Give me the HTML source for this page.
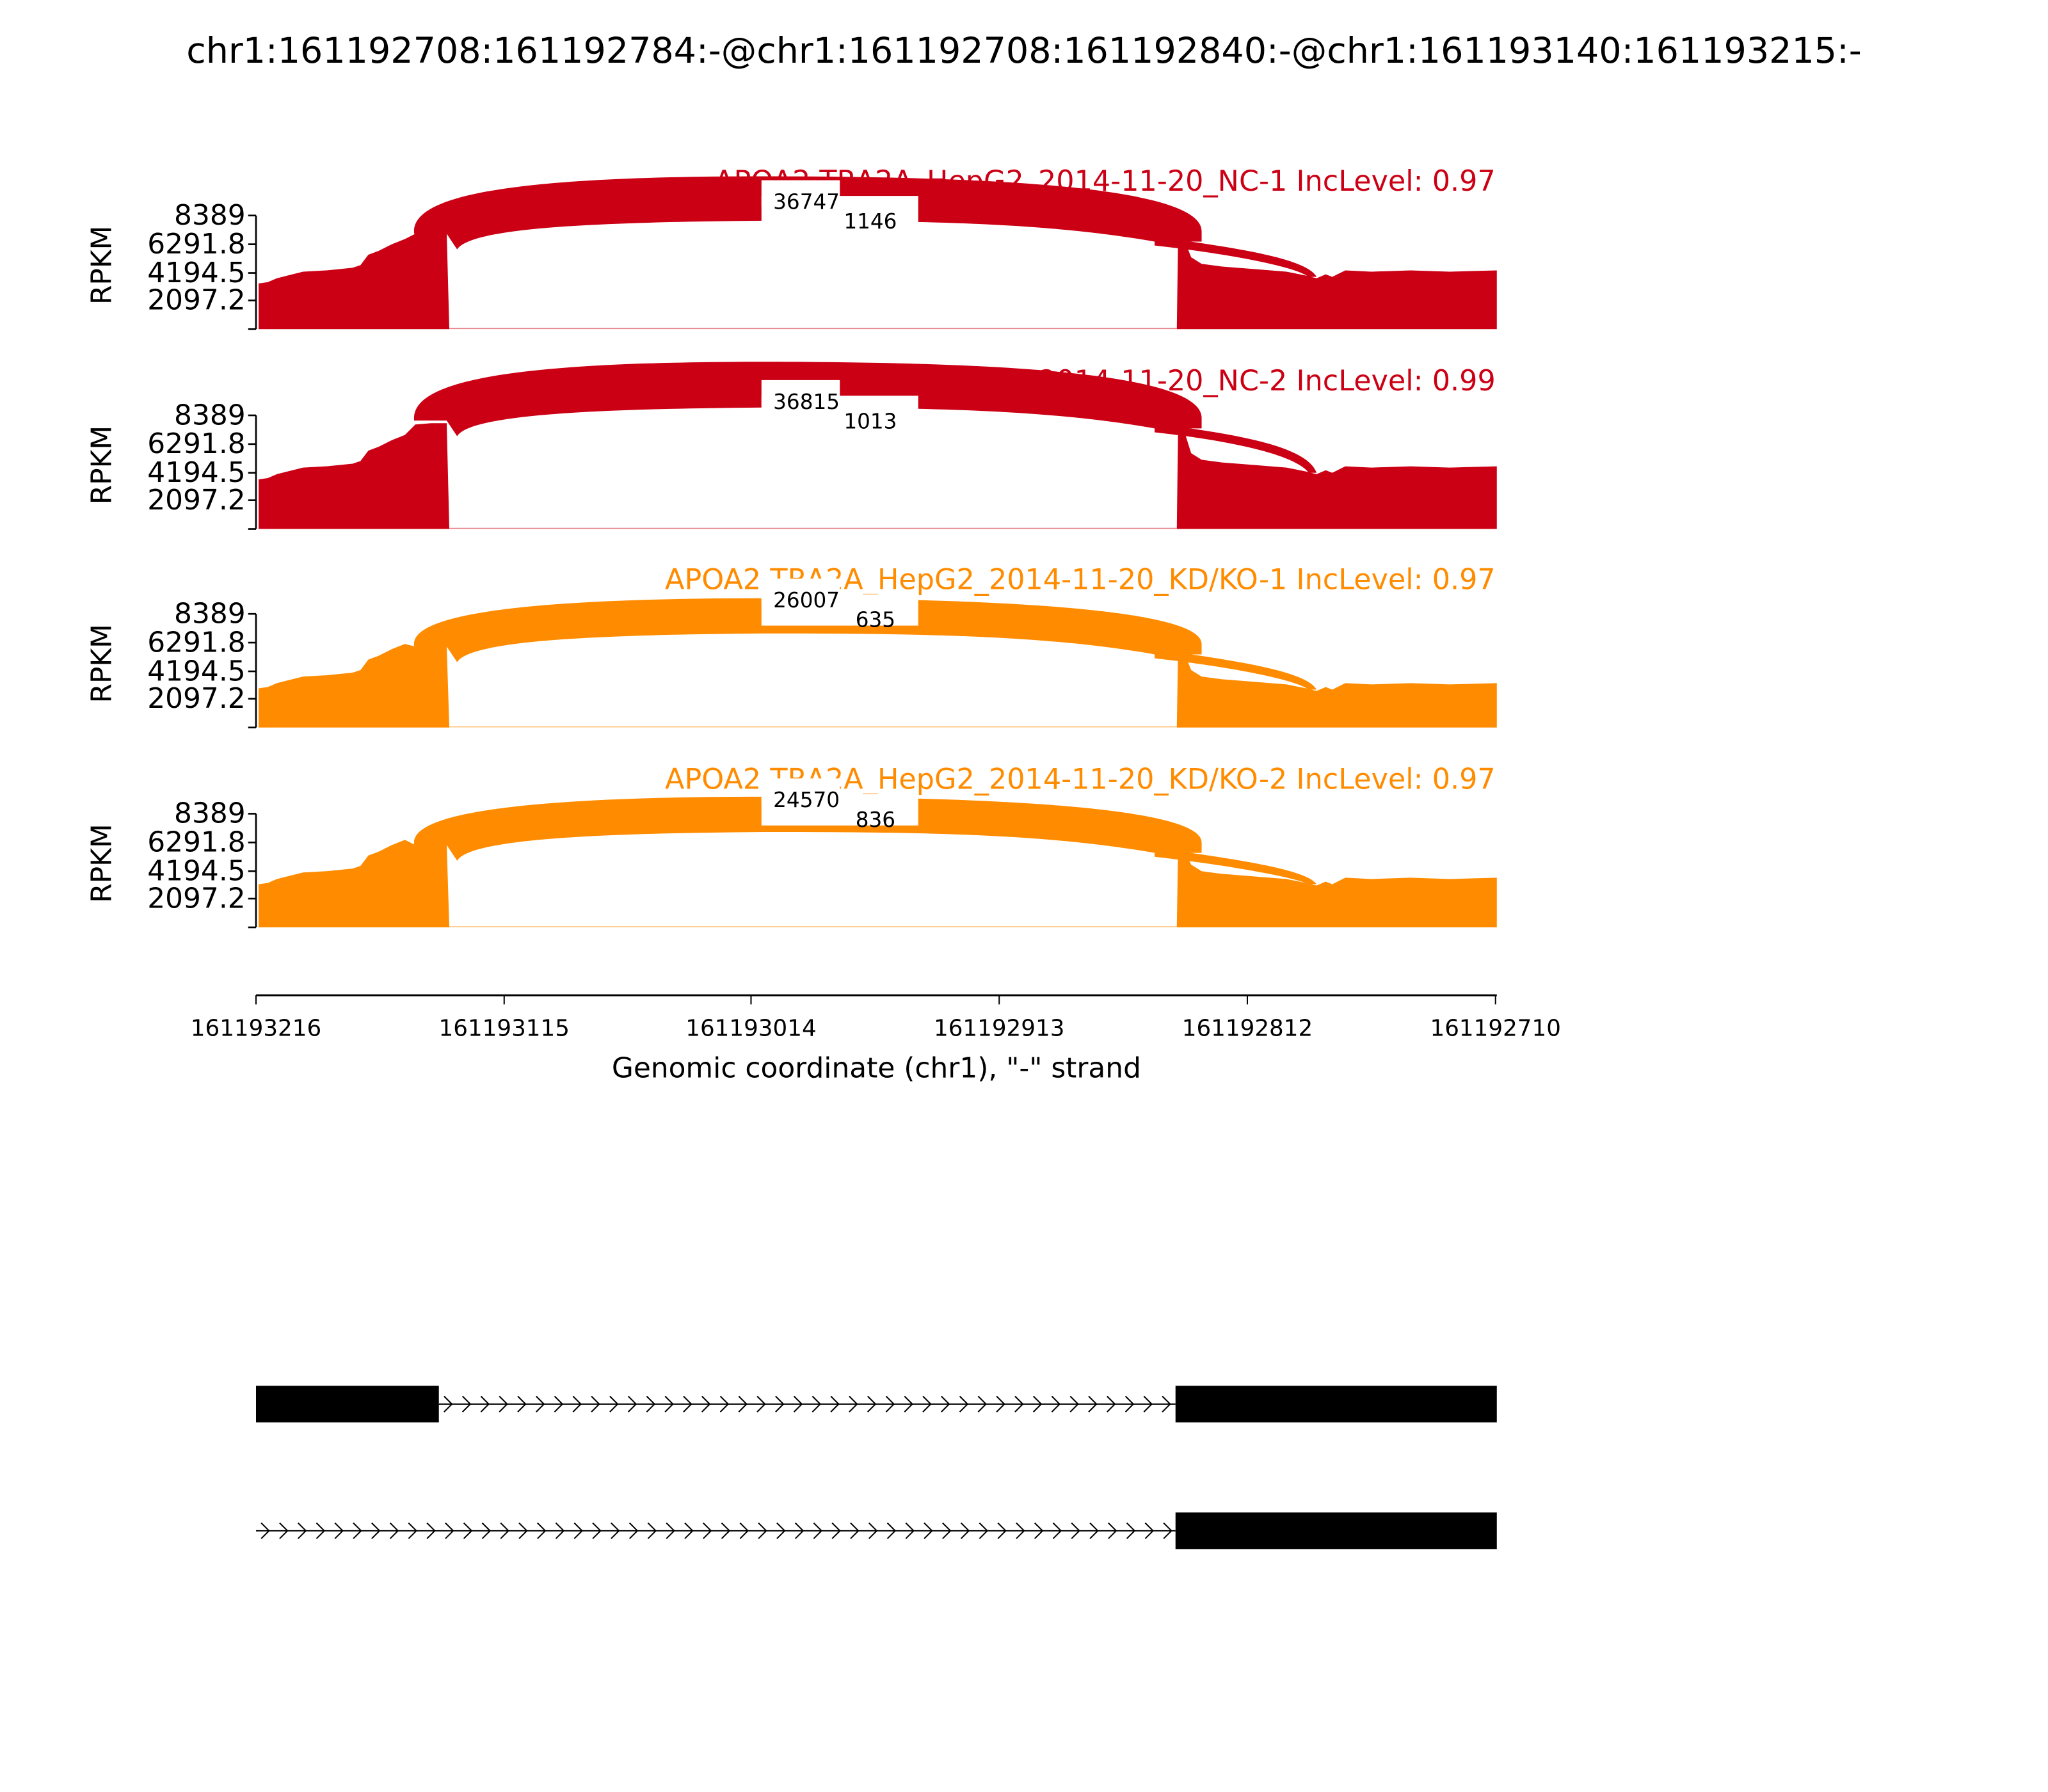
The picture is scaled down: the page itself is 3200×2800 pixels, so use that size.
<!DOCTYPE html>
<html><head><meta charset="utf-8"><style>
html,body{margin:0;padding:0;background:#fff;}
svg{display:block;}
text{font-family:"DejaVu Sans","Liberation Sans",sans-serif;}
</style></head><body>
<svg id="s" width="3200" height="2800" viewBox="0 0 1568 1372" xmlns="http://www.w3.org/2000/svg">
<rect width="1568" height="1372" fill="#fff"/>
<text x="784" y="48" font-size="27.2" text-anchor="middle">chr1:161192708:161192784:-@chr1:161192708:161192840:-@chr1:161193140:161193215:-</text>
<g id="panels"></g>
<line x1="196" y1="762" x2="1146" y2="762" stroke="#000" stroke-width="1.5"/>
<g stroke="#000" stroke-width="1">
<line x1="196" y1="762" x2="196" y2="769"/><line x1="386" y1="762" x2="386" y2="769"/><line x1="575" y1="762" x2="575" y2="769"/><line x1="765" y1="762" x2="765" y2="769"/><line x1="955" y1="762" x2="955" y2="769"/><line x1="1145" y1="762" x2="1145" y2="769"/>
</g>
<g font-size="17.5" text-anchor="middle">
<text x="196" y="793">161193216</text><text x="386" y="793">161193115</text><text x="575" y="793">161193014</text><text x="765" y="793">161192913</text><text x="955" y="793">161192812</text><text x="1145" y="793">161192710</text>
</g>
<text x="671" y="825" font-size="21.5" text-anchor="middle">Genomic coordinate (chr1), "-" strand</text>
<rect x="196" y="1061" width="140" height="28" fill="#000"/>
<line x1="336" y1="1075" x2="900" y2="1075" stroke="#000" stroke-width="1"/>
<rect x="900" y="1061" width="246" height="28" fill="#000"/>
<line x1="196" y1="1172" x2="900" y2="1172" stroke="#000" stroke-width="1"/>
<rect x="900" y="1158" width="246" height="28" fill="#000"/>
<g id="chev" stroke="#000" stroke-width="1" fill="none"></g>
</svg>
<script>
var NS="http://www.w3.org/2000/svg";
function el(p,t,a,txt){var e=document.createElementNS(NS,t);for(var k in a)e.setAttribute(k,a[k]);if(txt!==undefined)e.textContent=txt;p.appendChild(e);return e;}
var G=document.getElementById('panels');
var panels=[
 {dy:0,col:"#cc0015",name:"APOA2 TRA2A_HepG2_2014-11-20_NC-1 IncLevel: 0.97",n1:"36747",n2:"1146",s:217,c:178,a:135,e:177,r:207},
 {dy:153,col:"#cc0015",name:"APOA2 TRA2A_HepG2_2014-11-20_NC-2 IncLevel: 0.99",n1:"36815",n2:"1013",s:214,c:171,a:124,e:167,r:204},
 {dy:305,col:"#ff8c00",name:"APOA2 TRA2A_HepG2_2014-11-20_KD/KO-1 IncLevel: 0.97",n1:"26007",n2:"635",s:222,c:189,a:153,e:188,r:218},
 {dy:458,col:"#ff8c00",name:"APOA2 TRA2A_HepG2_2014-11-20_KD/KO-2 IncLevel: 0.97",n1:"24570",n2:"836",s:219,c:188,a:152,e:187,r:214}
];
panels.forEach(function(p,i){
 var g=el(G,'g',{transform:'translate(0,'+p.dy+')'});
 el(g,'line',{x1:196,y1:165,x2:196,y2:252,stroke:'#000','stroke-width':1.3});
 var ticks=[[165,'8389'],[187,'6291.8'],[209,'4194.5'],[230,'2097.2'],[252,'']];
 ticks.forEach(function(t){el(g,'line',{x1:190,y1:t[0],x2:196,y2:t[0],stroke:'#000','stroke-width':1.3});if(t[1])el(g,'text',{x:188,y:t[0]+7,'font-size':21.5,'text-anchor':'end'},t[1]);});
 el(g,'text',{x:0,y:0,'font-size':21.5,'text-anchor':'middle',transform:'translate(85,203) rotate(-90)'},'RPKM');
 el(g,'text',{x:1145,y:146,'font-size':21.8,fill:p.col,'text-anchor':'end'},p.name);
 var s=p.s,c=p.c;
 var L='M198,252 L198,'+s+' L205,'+(s-1)+' L212,'+(s-4)+' L220,'+(s-6)+' L232,'+(s-9)+' L250,'+(s-10)+' L270,'+(s-12)+' L276,'+(s-14)+' L282,'+(s-22)+' L290,'+(s-25)+' L300,'+(s-30)+' L310,'+(s-34)+' L318,'+(c+1)+' L330,'+c+' L342,'+c+' L344,252 Z';
 el(g,'path',{d:L,fill:p.col});
 var r=p.r;
 var R='M901,252 L902,'+(c+2)+' L906,'+(c+4)+' L912,'+(r-10)+' L920,'+(r-5)+' L935,'+(r-3)+' L960,'+(r-1)+' L985,'+(r+1)+' L1000,'+(r+4)+' L1008,'+(r+6)+' L1015,'+(r+3)+' L1020,'+(r+5)+' L1030,'+(r)+' L1050,'+(r+1)+' L1080,'+(r)+' L1110,'+(r+1)+' L1146,'+r+' L1146,252 Z';
 el(g,'path',{d:R,fill:p.col});
 el(g,'line',{x1:344,y1:251.5,x2:901,y2:251.5,stroke:p.col,'stroke-width':0.8,opacity:0.5});
 var a=p.a,e=p.e,ip=p.e-5;
 var A='M317,'+e+' C317,'+(a+10)+' 420,'+a+' 585,'+a+' C760,'+a+' 920,'+(a+8)+' 920,'+e+' L920,'+(e+8)+' L884,'+(e+8)+' C800,'+(ip-2)+' 700,'+(ip-3)+' 585,'+(ip-3)+' C460,'+(ip-2)+' 360,'+(ip+2)+' 350,'+(e+14)+' L342,'+(e+2)+' L317,'+(e+2)+' Z';
 el(g,'path',{d:A,fill:p.col});
 var y2=r+5;
 var B='M884,'+(e+4)+' C940,'+(e+12)+' 1000,'+(e+20)+' 1008,'+y2+' L1002,'+y2+' C990,'+(e+26)+' 930,'+(e+16)+' 884,'+(e+11)+' Z';
 el(g,'path',{d:B,fill:p.col});
 el(g,'rect',{x:583,y:150,width:120,height:24,fill:'#fff'});
 el(g,'rect',{x:583,y:138,width:60,height:20,fill:'#fff'});
 el(g,'text',{x:592,y:160,'font-size':16},p.n1);
 el(g,'text',{x:(p.n2.length==4?646:655),y:175,'font-size':16},p.n2);
});
var C=document.getElementById('chev');
for(var x=345;x<898;x+=14.1){el(C,'path',{d:'M'+(x-5)+',1069 L'+(x+1)+',1075 L'+(x-5)+',1081'});}
for(var x=205;x<898;x+=14.1){el(C,'path',{d:'M'+(x-5)+',1166 L'+(x+1)+',1172 L'+(x-5)+',1178'});}
</script>
</body></html>
